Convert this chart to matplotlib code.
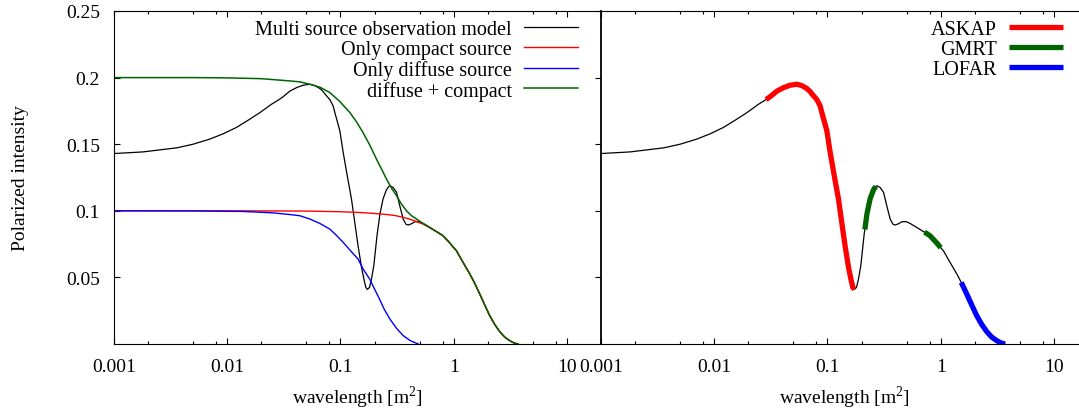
import numpy as np
import matplotlib.pyplot as plt
from matplotlib.ticker import FixedLocator, LogLocator, NullFormatter

plt.rcParams['font.family'] = ['Liberation Serif', 'DejaVu Serif']
plt.rcParams['font.size'] = 14
plt.rcParams['mathtext.fontset'] = 'custom'
plt.rcParams['mathtext.rm'] = 'Liberation Serif'

# wavelength^2 [m^2] and polarized intensity
lam2_multi = [0.001, 0.0018, 0.0036, 0.005, 0.007, 0.0092, 0.012, 0.0153, 0.0195,
              0.0246, 0.0287, 0.031, 0.0357, 0.041, 0.0469, 0.0537, 0.0594, 0.0658,
              0.0703, 0.0728, 0.0805, 0.0861, 0.0892, 0.0988, 0.1057, 0.115, 0.125,
              0.143, 0.1535, 0.161, 0.1675, 0.173, 0.1806, 0.188, 0.197, 0.211, 0.214,
              0.223, 0.238, 0.255, 0.267, 0.273, 0.292, 0.313, 0.334, 0.358, 0.378,
              0.396, 0.425, 0.454, 0.499, 0.537, 0.615, 0.7, 0.72, 0.805, 0.92, 1.0,
              1.057, 1.2, 1.39, 1.52, 1.70, 1.88, 2.08, 2.3, 2.55, 2.82, 3.13, 3.4, 3.7]
multi = [0.143, 0.1442, 0.1473, 0.150, 0.1538, 0.1578, 0.1625, 0.168, 0.1738,
         0.180, 0.1835, 0.1855, 0.1898, 0.1925, 0.1943, 0.195, 0.194, 0.1918,
         0.1895, 0.1878, 0.1835, 0.1788, 0.1738, 0.160, 0.1438, 0.126, 0.109,
         0.0738, 0.0575, 0.0488, 0.0425, 0.041, 0.0425, 0.0488, 0.0588, 0.0825, 0.086,
         0.0975, 0.109, 0.1158, 0.1183, 0.1188, 0.1175, 0.1138, 0.1038, 0.0938, 0.090,
         0.0893, 0.0903, 0.0918, 0.0918, 0.0905, 0.0875, 0.0845, 0.084, 0.0813, 0.076, 0.0723,
         0.070, 0.0618, 0.0525, 0.0462, 0.0375, 0.0293, 0.0213, 0.0148, 0.0093, 0.0052,
         0.0025, 0.0008, 0.0]

lam2_compact = [0.001, 0.01, 0.05, 0.1, 0.15, 0.2, 0.25, 0.3, 0.35, 0.4, 0.45, 0.5,
                0.537, 0.615, 0.7, 0.805, 0.92, 1.057, 1.2, 1.39, 1.52, 1.70, 1.88,
                2.08, 2.3, 2.55, 2.82, 3.13, 3.4, 3.7]
compact = [0.1, 0.1, 0.0998, 0.0993, 0.0987, 0.098, 0.0973, 0.0965, 0.0953, 0.094,
           0.0925, 0.091, 0.090, 0.0873, 0.0845, 0.0813, 0.076, 0.070, 0.0618, 0.0525,
           0.0462, 0.0375, 0.0293, 0.0213, 0.0148, 0.0093, 0.0052, 0.0025, 0.0008, 0.0]

lam2_diffuse = [0.001, 0.005, 0.0138, 0.025, 0.0357, 0.0438, 0.0537, 0.0658, 0.0805,
                0.0916, 0.1057, 0.1213, 0.143, 0.1585, 0.181, 0.2, 0.221, 0.2445,
                0.273, 0.3125, 0.358, 0.414, 0.486]
diffuse = [0.1, 0.0999, 0.0995, 0.0985, 0.0972, 0.0963, 0.0938, 0.0905, 0.0863,
           0.0818, 0.0763, 0.0705, 0.0638, 0.0563, 0.0488, 0.0413, 0.0338, 0.0258,
           0.0188, 0.0118, 0.0063, 0.0025, 0.0]

lam2_sum = [0.001, 0.005, 0.01, 0.02, 0.0357, 0.0438, 0.0537, 0.0658, 0.0805, 0.0988,
            0.121, 0.1387, 0.158, 0.1816, 0.208, 0.2307, 0.255, 0.2825, 0.313, 0.346,
            0.383, 0.4245, 0.47, 0.537, 0.615, 0.7, 0.805, 0.92, 1.057, 1.2, 1.39,
            1.52, 1.70, 1.88, 2.08, 2.3, 2.55, 2.82, 3.13, 3.4, 3.7]
diff_plus_comp = [0.2, 0.2, 0.1998, 0.1992, 0.1975, 0.1968, 0.195, 0.1928, 0.1888,
                  0.182, 0.1738, 0.1668, 0.1588, 0.1493, 0.1388, 0.1313, 0.1238, 0.117,
                  0.1113, 0.105, 0.1, 0.0963, 0.0938, 0.0905, 0.0875, 0.0845, 0.0813,
                  0.076, 0.070, 0.0618, 0.0525, 0.0462, 0.0375, 0.0293, 0.0213, 0.0148,
                  0.0093, 0.0052, 0.0025, 0.0008, 0.0]

# telescope coverage in wavelength^2
askap_bands = [(0.0287, 0.173)]
gmrt_bands = [(0.214, 0.267), (0.72, 1.0)]
lofar_bands = [(1.52, 3.7)]

xticks = [0.001, 0.01, 0.1, 1, 10]
xticklabels = ['0.001', '0.01', '0.1', '1', '10']
yticks = [0.05, 0.1, 0.15, 0.2, 0.25]
yticklabels = ['0.05', '0.1', '0.15', '0.2', '0.25']

green = '#006400'

W, H = 1079, 414
fig = plt.figure(figsize=(W / 100, H / 100), dpi=100)
ax1 = fig.add_axes([114 / W, (H - 345) / H, 487 / W, 333 / H])
ax2 = fig.add_axes([601 / W, (H - 345) / H, 487 / W, 333 / H])

x_m = np.array(lam2_multi)
y_m = np.array(multi)

# left panel: the four models
ax1.plot(lam2_multi, multi, color='black', lw=0.9, label='Multi source observation model')
ax1.plot(lam2_compact, compact, color='red', lw=1.0, label='Only compact source')
ax1.plot(lam2_diffuse, diffuse, color='blue', lw=1.0, label='Only diffuse source')
ax1.plot(lam2_sum, diff_plus_comp, color=green, lw=1.1, label='diffuse + compact')

# right panel: the model with the observed bands on top
ax2.plot(lam2_multi, multi, color='black', lw=0.9)
for bands, col, name in [(askap_bands, 'red', 'ASKAP'),
                         (gmrt_bands, green, 'GMRT'),
                         (lofar_bands, 'blue', 'LOFAR')]:
    for i, (lo, hi) in enumerate(bands):
        m = (x_m >= lo) & (x_m <= hi)
        ax2.plot(x_m[m], y_m[m], color=col, lw=3.8, solid_capstyle='butt',
                 label=name if i == 0 else None)

for ax in (ax1, ax2):
    ax.set_xscale('log')
    ax.set_xlim(0.001, 20)
    ax.set_ylim(0, 0.25)
    ax.xaxis.set_major_locator(FixedLocator(xticks))
    ax.set_xticklabels(xticklabels)
    ax.xaxis.set_minor_locator(LogLocator(base=10, subs=[2, 5, 8]))
    ax.xaxis.set_minor_formatter(NullFormatter())
    ax.tick_params(which='both', direction='in', top=True, labelsize=14, width=0.8)
    ax.tick_params(which='major', length=4)
    ax.tick_params(which='minor', length=2)
    ax.tick_params(axis='x', pad=10)
    ax.set_xlabel('wavelength [m$^{2}$]', labelpad=6)
    for s in ax.spines.values():
        s.set_linewidth(0.8)

ax1.set_yticks(yticks)
ax1.set_yticklabels(yticklabels)
ax1.tick_params(axis='y', right=True, pad=10)
ax1.set_ylabel('Polarized intensity', labelpad=27)

ax2.set_yticks([])
ax2.spines['right'].set_visible(False)
ax2.spines['left'].set_linewidth(1.3)

leg_kw = dict(loc='upper right', frameon=False, markerfirst=False, borderpad=0,
              borderaxespad=0, handlelength=2.7, handletextpad=0.6,
              labelspacing=0.05, fontsize=14.5)
ax1.legend(bbox_to_anchor=(1 - 23 / 487, 1 - 8.5 / 333), **leg_kw)
ax2.legend(bbox_to_anchor=(1 - 25 / 487, 1 - 8.5 / 333), **leg_kw)

fig.savefig('out.png', dpi=100)
